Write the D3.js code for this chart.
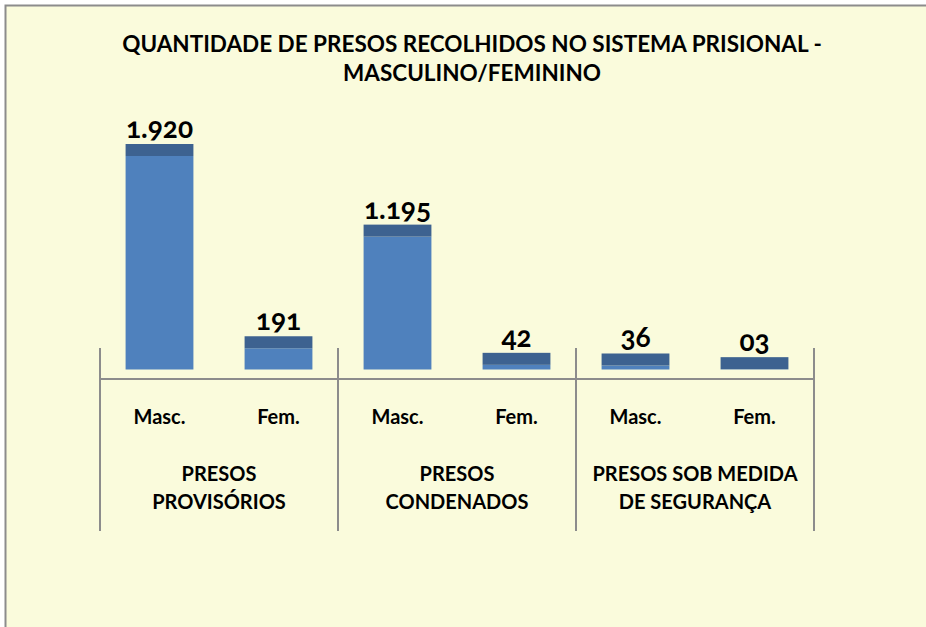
<!DOCTYPE html>
<html>
<head>
<meta charset="utf-8">
<script src="https://cdn.jsdelivr.net/npm/d3@7"></script>
<style>
  html, body { margin: 0; padding: 0; background: #fff; }
  svg text { font-family: Lato, "Open Sans", sans-serif; font-weight: bold; fill: #000; }
</style>
</head>
<body>
<svg id="container" width="926" height="627"></svg>
<script>
// data
const groups = ["PRESOS|PROVISÓRIOS", "PRESOS|CONDENADOS", "PRESOS SOB MEDIDA|DE SEGURANÇA"];
const sexes = ["Masc.", "Fem."];
const values = [1920, 191, 1195, 42, 36, 3];
const valueLabels = ["1.920", "191", "1.195", "42", "36", "03"];
const titleLines = ["QUANTIDADE DE PRESOS RECOLHIDOS NO SISTEMA PRISIONAL -", "MASCULINO/FEMININO"];

const svg = d3.select('#container');

// frame
svg.append('rect')
    .attr('x', 5.5).attr('y', 5.5)
    .attr('width', 940).attr('height', 640)
    .attr('fill', '#fafbdc')
    .attr('stroke', '#8c8c8c')
    .attr('stroke-width', 2);

svg.append('text')
    .attr('x', 472).attr('y', 52)
    .attr('text-anchor', 'middle')
    .style('font-size', '22.5px')
    .selectAll('tspan')
    .data(titleLines)
    .join('tspan')
    .attr('x', 472)
    .attr('dy', (d, i) => i === 0 ? 0 : 29)
    .text(d => d);

const left = 100, right = 814;
const cats = d3.range(values.length);

const xScale = d3.scaleBand().domain(cats).range([left, right]).paddingInner(0.43).paddingOuter(0.215);
const yScale = d3.scaleLinear().domain([0, 1920]).range([369.5, 156]);
const topDepth = 12;

// group dividers
const gScale = d3.scaleBand().domain(d3.range(groups.length)).range([left, right]);
const divX = [left].concat(groups.map((g, i) => gScale(i) + gScale.bandwidth()));
svg.selectAll('line.div')
    .data(divX)
    .join('line')
    .attr('class', 'div')
    .attr('x1', d => d).attr('x2', d => d)
    .attr('y1', 348).attr('y2', 531)
    .attr('stroke', '#8c8c8c').attr('stroke-width', 2);

svg.append('line')
    .attr('x1', left).attr('x2', right)
    .attr('y1', 379).attr('y2', 379)
    .attr('stroke', '#8c8c8c').attr('stroke-width', 2);

// bars: front face + top face
svg.selectAll('rect.front')
    .data(cats)
    .join('rect')
    .attr('class', 'front')
    .attr('x', i => xScale(i))
    .attr('width', xScale.bandwidth())
    .attr('y', i => yScale(values[i]))
    .attr('height', i => yScale(0) - yScale(values[i]))
    .attr('fill', '#4f81bd');

svg.selectAll('rect.top')
    .data(cats)
    .join('rect')
    .attr('class', 'top')
    .attr('x', i => xScale(i))
    .attr('width', xScale.bandwidth())
    .attr('y', i => yScale(values[i]) - topDepth)
    .attr('height', topDepth)
    .attr('fill', '#3d6290');

svg.selectAll('text.val')
    .data(cats)
    .join('text')
    .attr('class', 'val')
    .attr('x', i => xScale(i) + xScale.bandwidth() / 2)
    .attr('y', i => yScale(values[i]) - topDepth - 6)
    .attr('text-anchor', 'middle')
    .style('font-size', '28px')
    .style('font-variant-numeric', 'oldstyle-nums')
    .text(i => valueLabels[i]);

svg.selectAll('text.sex')
    .data(cats)
    .join('text')
    .attr('class', 'sex')
    .attr('x', i => xScale(i) + xScale.bandwidth() / 2)
    .attr('y', 424)
    .attr('text-anchor', 'middle')
    .style('font-size', '20px')
    .text(i => sexes[i % 2]);

svg.selectAll('text.grp')
    .data(groups)
    .join('text')
    .attr('class', 'grp')
    .attr('text-anchor', 'middle')
    .style('font-size', '20px')
    .selectAll('tspan')
    .data((g, i) => g.split('|').map(s => ({ s, i })))
    .join('tspan')
    .attr('x', d => gScale(d.i) + gScale.bandwidth() / 2)
    .attr('y', (d, j) => 481 + j * 28)
    .text(d => d.s);
</script>
</body>
</html>
